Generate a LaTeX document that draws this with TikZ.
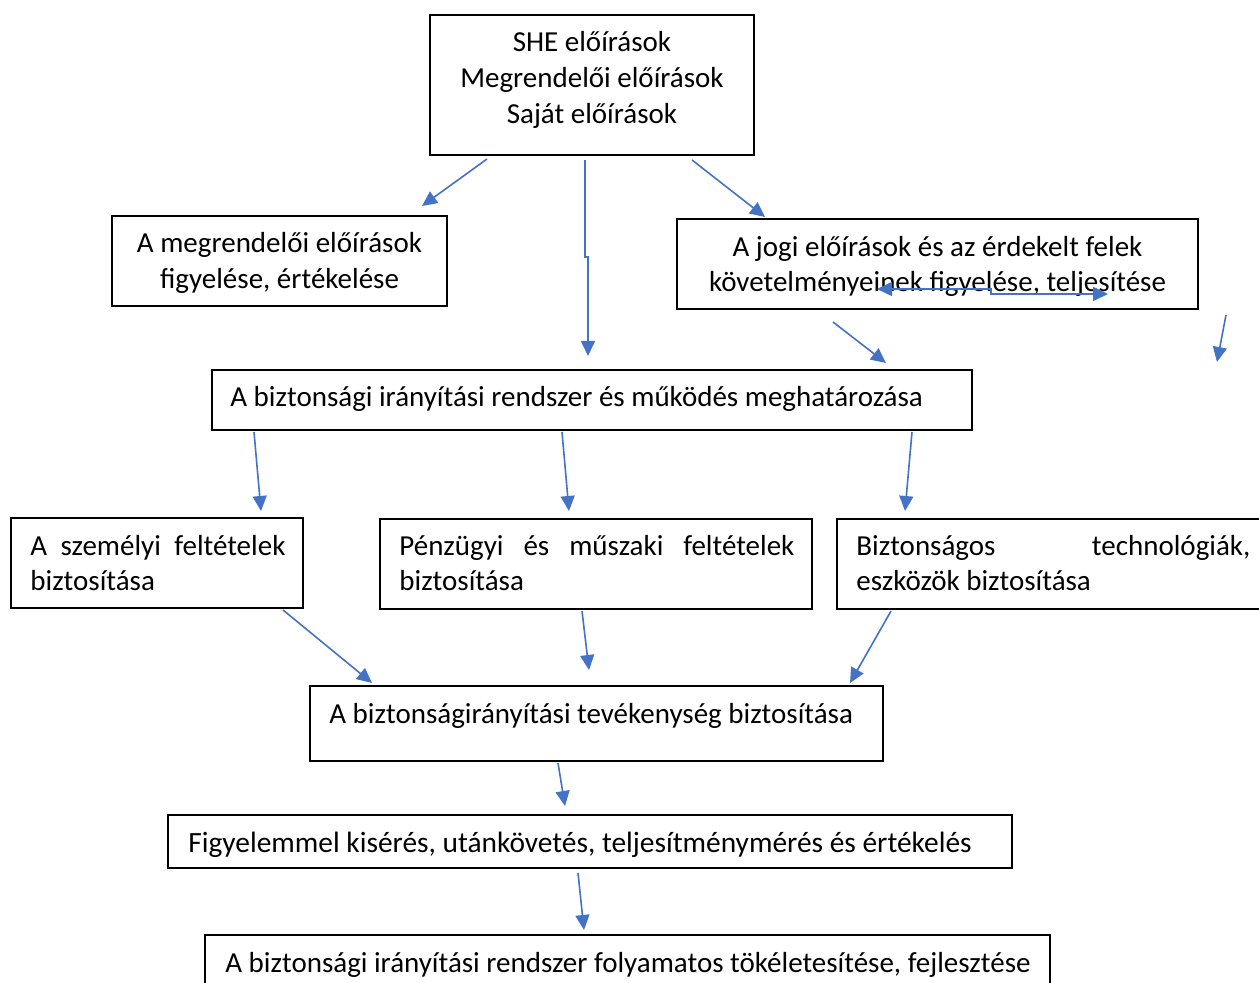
\documentclass[tikz,border=0pt]{standalone}
\usepackage{fontspec}
\setmainfont{Carlito}
\usetikzlibrary{arrows.meta,fit}
\definecolor{arrowblue}{HTML}{4472C4}
\begin{document}
\begin{tikzpicture}[x=0.5pt,y=-0.5pt,
  box/.style={draw=black,line width=0.7pt,inner sep=0pt},
  txt/.style={inner sep=0pt,font=\fontsize{14.5pt}{18pt}\selectfont},
  lbl/.style={txt,anchor=base west},
  clbl/.style={txt,anchor=base},
  arr/.style={draw=arrowblue,line width=0.8pt,-{Triangle[length=7.5pt,width=7pt]}},
  darr/.style={draw=arrowblue,line width=0.8pt,{Triangle[length=7.5pt,width=7pt]}-{Triangle[length=7.5pt,width=7pt]}}]
\fill[white] (0,0) rectangle (1259,983);
\useasboundingbox (0,0) rectangle (1259,983);
\clip (0,0) rectangle (1259,983);

% boxes
\node[box,fit={(430,15)(754,155)}] (src) {};
\node[clbl] (src1) at (592,52) {SHE előírások};
\node[clbl] (src2) at (592,88) {Megrendelői előírások};
\node[clbl] (src3) at (592,124) {Saját előírások};

\node[box,fit={(112,216)(447,306)}] (meg) {};
\node[clbl] (meg1) at (279.5,253) {A megrendelői előírások};
\node[clbl] (meg2) at (279.5,289) {figyelése, értékelése};

\node[box,fit={(677,219)(1198,309)}] (jog) {};
\node[clbl] (jog1) at (937.5,257) {A jogi előírások és az érdekelt felek};
\node[clbl] (jog2) at (937.5,292) {követelményeinek figyelése, teljesítése};

\node[box,fit={(212,370)(972,430)}] (bir) {};
\node[lbl] (bir1) at (230,407) {A biztonsági irányítási rendszer és működés meghatározása};

\node[box,fit={(11,518)(303,608)}] (szem) {};
\node[lbl] (szem1) at (30,556) {\hbox to 127.5pt{A\hfill személyi\hfill feltételek}};
\node[lbl] (szem2) at (30,591) {biztosítása};

\node[box,fit={(380,519)(812,609)}] (penz) {};
\node[lbl] (penz1) at (399,556) {\hbox to 197.5pt{Pénzügyi\hfill és\hfill műszaki\hfill feltételek}};
\node[lbl] (penz2) at (399,591) {biztosítása};

\node[box,fit={(837,519)(1268,609)}] (tech) {};
\node[lbl] (tech1) at (856,556) {\hbox to 197pt{Biztonságos\hfill technológiák,}};
\node[lbl] (tech2) at (856,591) {eszközök biztosítása};

\node[box,fit={(310,686)(883,761)}] (tev) {};
\node[lbl] (tev1) at (329,724) {A biztonságirányítási tevékenység biztosítása};

\node[box,fit={(168,815)(1012,868)}] (figy) {};
\node[lbl,font=\fontsize{14.7pt}{18pt}\selectfont] (figy1) at (188,852) {Figyelemmel kisérés, utánkövetés, teljesítménymérés és értékelés};

\node[box,fit={(205,935)(1050,1000)}] (fejl) {};
\node[lbl] (fejl1) at (225,972) {A biztonsági irányítási rendszer folyamatos tökéletesítése, fejlesztése};

% connector end points
\coordinate (a1s) at (487,159); \coordinate (a1e) at (422,206);
\coordinate (a2s) at (585,160); \coordinate (a2m1) at (585,257);
\coordinate (a2m2) at (588,257); \coordinate (a2e) at (588,356);
\coordinate (a3s) at (692,160); \coordinate (a3e) at (765,217);
\coordinate (a4s) at (877,289); \coordinate (a4m1) at (991,289);
\coordinate (a4m2) at (991,294); \coordinate (a4e) at (1108,294);
\coordinate (a5s) at (833,322); \coordinate (a5e) at (886,363);
\coordinate (a6s) at (1226,315); \coordinate (a6e) at (1217,362);
\coordinate (a7s) at (254,432); \coordinate (a7e) at (261,511);
\coordinate (a8s) at (562,432); \coordinate (a8e) at (569,511);
\coordinate (a9s) at (912,432); \coordinate (a9e) at (905,511);
\coordinate (a10s) at (283,610); \coordinate (a10e) at (372,683);
\coordinate (a11s) at (582,611); \coordinate (a11e) at (589,670);
\coordinate (a12s) at (891,611); \coordinate (a12e) at (850,683);
\coordinate (a13s) at (558,763); \coordinate (a13e) at (565,806);
\coordinate (a14s) at (578,873); \coordinate (a14e) at (584,930);

% connectors
\draw[arr] (a1s) -- (a1e);
\draw[arr] (a2s) -- (a2m1) -- (a2m2) -- (a2e);
\draw[arr] (a3s) -- (a3e);
\draw[darr] (a4s) -- (a4m1) -- (a4m2) -- (a4e);
\draw[arr] (a5s) -- (a5e);
\draw[arr] (a6s) -- (a6e);
\draw[arr] (a7s) -- (a7e);
\draw[arr] (a8s) -- (a8e);
\draw[arr] (a9s) -- (a9e);
\draw[arr] (a10s) -- (a10e);
\draw[arr] (a11s) -- (a11e);
\draw[arr] (a12s) -- (a12e);
\draw[arr] (a13s) -- (a13e);
\draw[arr] (a14s) -- (a14e);
\end{tikzpicture}
\end{document}
